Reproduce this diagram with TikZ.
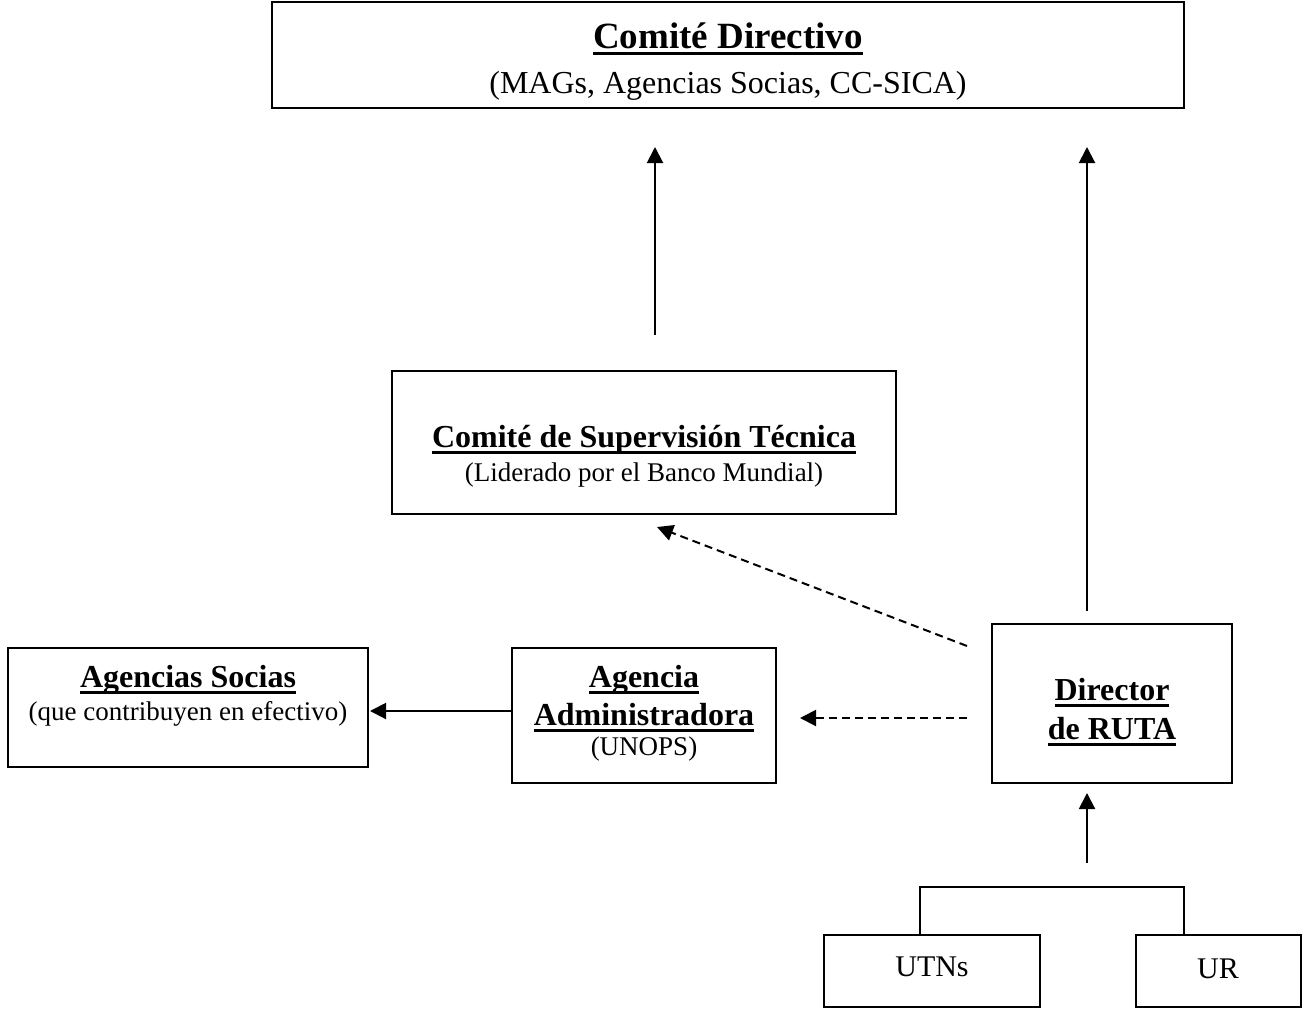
\documentclass[tikz,border=0pt]{standalone}
\usepackage{fontspec}
\setmainfont{Liberation Serif}
\usetikzlibrary{arrows.meta}
\newcommand\ulbox[1]{\setbox0\hbox{#1}\rlap{\vrule width\wd0 height -3.5pt depth 6.5pt}\box0}
\begin{document}
\begin{tikzpicture}[x=1pt,y=-1pt,line width=2pt,
  box/.style={draw,line width=2pt,inner sep=0pt,outer sep=0pt,anchor=north west},
  txt/.style={inner sep=0pt,anchor=base},
  hd/.style={txt,font=\fontsize{32}{36}\selectfont\bfseries},
  sub/.style={txt,font=\fontsize{27}{31}\selectfont},
  arr/.style={-{Triangle[length=16pt,width=16pt]},line width=2pt},
  darr/.style={arr,dash pattern=on 8pt off 5pt}]
\useasboundingbox (0,0) rectangle (1303,1009);
% boxes
\node[box,minimum width=912pt,minimum height=106pt] (cd) at (272,2) {};
\node[box,minimum width=504pt,minimum height=143pt] (cst) at (392,371) {};
\node[box,minimum width=360pt,minimum height=119pt] (as) at (8,648) {};
\node[box,minimum width=264pt,minimum height=135pt] (aa) at (512,648) {};
\node[box,minimum width=240pt,minimum height=159pt] (dir) at (992,624) {};
\node[box,minimum width=216pt,minimum height=72pt] (utn) at (824,935) {};
\node[box,minimum width=165pt,minimum height=72pt] (ur) at (1136,935) {};
% texts
\node[txt,font=\fontsize{37}{40}\selectfont\bfseries] (cdt) at (728,48) {\ulbox{Comité Directivo}};
\node[txt,font=\fontsize{32}{36}\selectfont] (cds) at (728,93) {(MAGs, Agencias Socias, CC-SICA)};
\node[hd] (cstt) at (644,447) {\ulbox{Comité de Supervisión Técnica}};
\node[sub] (csts) at (644,481) {(Liderado por el Banco Mundial)};
\node[hd] (ast) at (188,687) {\ulbox{Agencias Socias}};
\node[sub] (ass) at (188,720) {(que contribuyen en efectivo)};
\node[hd] (aat1) at (644,687) {\ulbox{Agencia}};
\node[hd] (aat2) at (644,725) {\ulbox{Administradora}};
\node[sub] (aas) at (644,755) {(UNOPS)};
\node[hd] (dirt1) at (1112,700) {\ulbox{Director}};
\node[hd] (dirt2) at (1112,739) {\ulbox{de RUTA}};
\node[txt,font=\fontsize{30}{34}\selectfont] (utnt) at (932,976) {UTNs};
\node[txt,font=\fontsize{30}{34}\selectfont] (urt) at (1218,978) {UR};
% connectors
\draw[arr,shorten <=36pt,shorten >=39pt] ([xshift=11pt]cst.north) -- ([xshift=11pt]cst.north |- cd.south);
\draw[arr,shorten <=13pt,shorten >=39pt] ([xshift=-25pt]dir.north) -- ([xshift=-25pt]dir.north |- cd.south);
\coordinate (brk) at (1087,887);
\coordinate (bl) at (920,887);
\coordinate (br) at (1184,887);
\draw (bl |- utn.north) -- (bl) -- (br) -- (br |- ur.north);
\draw[arr,shorten <=24pt,shorten >=10pt] (brk) -- (brk |- dir.south);
\draw[darr] ([xshift=-25pt,yshift=-22pt]dir.north west) -- ([xshift=13pt,yshift=-13pt]cst.south);
\coordinate (dh) at (967,718);
\draw[darr,shorten >=24pt] (dh) -- (dh -| aa.east);
\coordinate (sy) at (0,711);
\draw[arr,shorten >=2pt] (aa.west |- sy) -- (as.east |- sy);
\end{tikzpicture}
\end{document}
